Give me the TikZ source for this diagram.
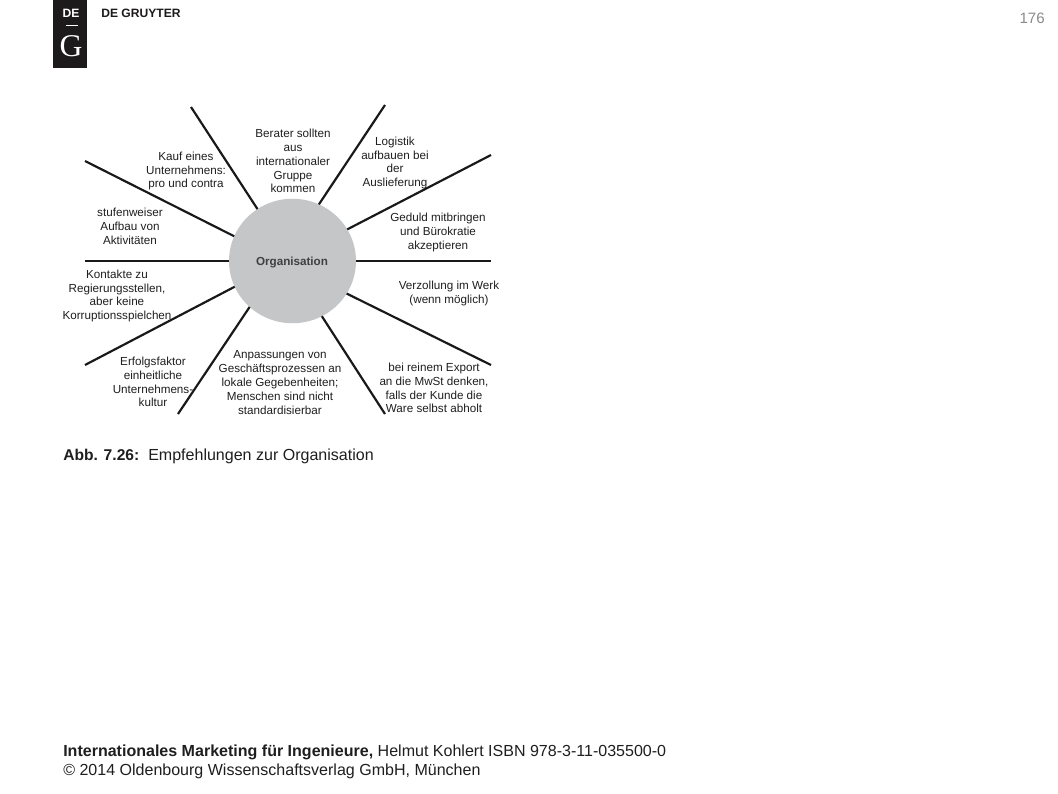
\documentclass[tikz,border=0pt]{standalone}
\usepackage{fontspec}
\setmainfont{Liberation Sans}
\newfontfamily\logoserif{Liberation Serif}
\usetikzlibrary{positioning,shapes.geometric}
\definecolor{DiscGray}{HTML}{C4C6C8}
\definecolor{PageGray}{HTML}{8A8A8A}
\definecolor{LabelInk}{HTML}{1E1E1E}
\definecolor{LogoBlack}{HTML}{1C1A1B}
\tikzset{
  spoke/.style={line width=1.55pt,draw=black!90},
  spokelabel/.style={align=center,inner sep=0pt,text=LabelInk,font=\fontsize{8.3}{9.85}\selectfont},
  pagetext/.style={anchor=base west,inner sep=0pt,text=LabelInk,font=\fontsize{11.4}{13.6}\selectfont}
}

\begin{document}
\begin{tikzpicture}[x=0.025cm,y=-0.025cm]
    \useasboundingbox (0,0) rectangle (1058,794);

    % logo and page number
    \node[fill=LogoBlack,minimum width=34*0.025cm,minimum height=68*0.025cm,inner sep=0pt,outer sep=0pt] (logo) at (70,34) {};
    \node[inner sep=0pt,text=white,font=\bfseries\fontsize{8.6}{10}\selectfont] (logode) at (71,13.5) {DE};
    \coordinate (rulea) at (66,25);
    \coordinate (ruleb) at (78,25);
    \draw[white,line width=0.7pt] (rulea) -- (ruleb);
    \node[inner sep=0pt,text=white,font=\logoserif\fontsize{22.5}{24}\selectfont] (logog) at (71,46.5) {G};
    \node[anchor=west,inner sep=0pt,text=LogoBlack,font=\bfseries\fontsize{8.6}{10}\selectfont] (brand) at (101,13.5) {DE GRUYTER};
    \node[anchor=base east,inner sep=0pt,text=PageGray,font=\fontsize{10.7}{12}\selectfont] (pagenum) at (1045,24) {176};

    % disc and spokes
    \node[ellipse,fill=DiscGray,minimum width=127*0.025cm,minimum height=124.5*0.025cm,inner sep=0pt,outer sep=0pt] (org) at (292.5,261) {};
    \node[inner sep=0pt,text=black!75,font=\bfseries\fontsize{8.3}{10}\selectfont] (orgtext) at (292,262.5) {Organisation};

    \coordinate (e1) at (191,107);
    \coordinate (e2) at (85,161);
    \coordinate (e3) at (85,261);
    \coordinate (e4) at (85,365);
    \coordinate (e5) at (178,414);
    \coordinate (e6) at (385,414);
    \coordinate (e7) at (491,365);
    \coordinate (e8) at (491,261);
    \coordinate (e9) at (491,155);
    \coordinate (e10) at (385,105);

    \foreach \a/\i in {124.5/1,157/2,180/3,204/4,227/5,298/6,329.5/7,0/8,30.5/9,65/10}
      \draw[spoke] (org.\a) -- (e\i);

    % labels
    \node[spokelabel] (l1) at (186,171) {Kauf eines\\Unternehmens:\\pro und contra};
    \node[spokelabel] (l2) at (130,226) {stufenweiser\\Aufbau von\\Aktivitäten};
    \node[spokelabel] (l3) at (117,296) {Kontakte zu\\Regierungsstellen,\\aber keine\\Korruptionsspielchen};
    \node[spokelabel] (l4) at (153,382) {Erfolgsfaktor\\einheitliche\\Unternehmens-\\kultur};
    \node[spokelabel] (l5) at (280,382.5) {Anpassungen von\\Geschäftsprozessen an\\lokale Gegebenheiten;\\Menschen sind nicht\\standardisierbar};
    \node[spokelabel] (l6) at (434,388) {bei reinem Export\\an die MwSt denken,\\falls der Kunde die\\Ware selbst abholt};
    \node[spokelabel] (l7) at (449,293.5) {Verzollung im Werk\\(wenn möglich)};
    \node[spokelabel] (l8) at (438,232.5) {Geduld mitbringen\\und Bürokratie\\akzeptieren};
    \node[spokelabel] (l9) at (395,163) {Logistik\\aufbauen bei\\der\\Auslieferung};
    \node[spokelabel] (l10) at (293,161) {Berater sollten\\aus\\internationaler\\Gruppe\\kommen};

    % caption and footer
    \node[pagetext,font=\bfseries\fontsize{11.1}{13.6}\selectfont] (abb) at (63,460) {Abb. 7.26:};
    \node[pagetext] (capt) at (148,460) {Empfehlungen zur Organisation};
    \node[pagetext] (foot1) at (63,756) {\textbf{Internationales Marketing für Ingenieure,} Helmut Kohlert ISBN 978-3-11-035500-0};
    \node[pagetext] (foot2) at (63,775) {© 2014 Oldenbourg Wissenschaftsverlag GmbH, München};
\end{tikzpicture}
\end{document}
